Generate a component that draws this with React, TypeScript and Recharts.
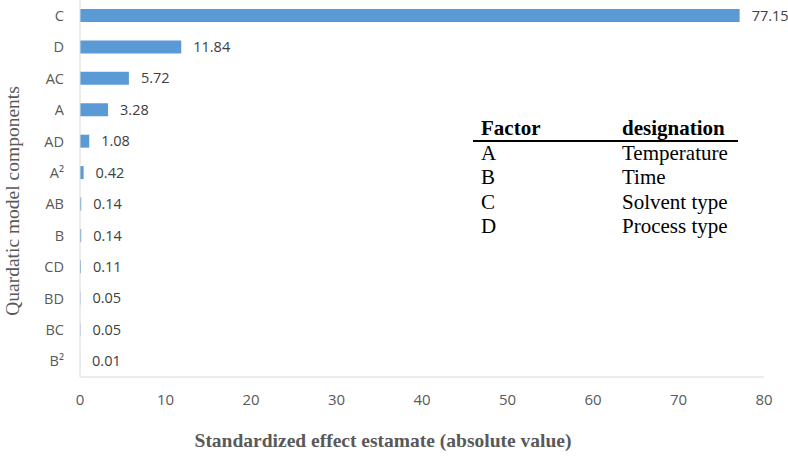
import { BarChart, Bar, XAxis, YAxis, LabelList } from "recharts";

const factors = ['C', 'D', 'AC', 'A', 'AD', 'A²', 'AB', 'B', 'CD', 'BD', 'BC', 'B²'];
const effects = [77.15, 11.84, 5.72, 3.28, 1.08, 0.42, 0.14, 0.14, 0.11, 0.05, 0.05, 0.01];
const xTicks = [0, 10, 20, 30, 40, 50, 60, 70, 80];

const tableCodes = ['A', 'B', 'C', 'D'];
const tableNames = ['Temperature', 'Time', 'Solvent type', 'Process type'];

const data = factors.map((name, i) => ({ name, value: effects[i] }));

const serif = '"Liberation Serif", "Times New Roman", serif';
const sans = '"Open Sans", Calibri, sans-serif';

const App = () => {
  return (
    <div style={{ position: 'absolute', left: 0, top: 0, width: 788, height: 456, background: '#fff' }}>
      <BarChart
        width={788}
        height={456}
        data={data}
        layout="vertical"
        margin={{ top: 0, right: 24, left: 0, bottom: 0 }}
        barCategoryGap={0}
      >
        <XAxis
          type="number"
          domain={[0, 80]}
          ticks={xTicks}
          height={79}
          tickLine={false}
          tickSize={0}
          tickMargin={17}
          axisLine={{ stroke: '#d9d9d9' }}
          tick={{ fill: '#595959', fontSize: 15, fontFamily: sans }}
        />
        <YAxis
          type="category"
          dataKey="name"
          width={80}
          tickLine={false}
          tickSize={0}
          tickMargin={16}
          axisLine={{ stroke: '#d9d9d9' }}
          tick={{ fill: '#595959', fontSize: 14.5, fontFamily: sans }}
        />
        <Bar dataKey="value" fill="#5b9bd5" barSize={13} isAnimationActive={false}>
          <LabelList
            dataKey="value"
            position="right"
            offset={12}
            formatter={(v: any) => Number(v).toFixed(2)}
            style={{ fill: '#404040', fontSize: 14.5, fontFamily: sans }}
          />
        </Bar>
      </BarChart>
      <svg width={788} height={456} style={{ position: 'absolute', left: 0, top: 0, pointerEvents: 'none' }}>
        <text
          x={0}
          y={0}
          transform="translate(19,201) rotate(-90)"
          textAnchor="middle"
          style={{ fill: '#595959', fontSize: 19.5, fontFamily: serif }}
        >
          Quardatic model components
        </text>
        <text
          x={383}
          y={447}
          textAnchor="middle"
          style={{ fill: '#595959', fontSize: 19.5, fontWeight: 'bold', fontFamily: serif }}
        >
          Standardized effect estamate (absolute value)
        </text>
        <text x={481} y={135} style={{ fill: '#000', fontSize: 21, fontWeight: 'bold', fontFamily: serif }}>Factor</text>
        <text x={622} y={135} style={{ fill: '#000', fontSize: 21, fontWeight: 'bold', fontFamily: serif }}>designation</text>
        <line x1={473} y1={141} x2={738} y2={141} stroke="#000" strokeWidth={2} />
        {tableCodes.map((c, i) => (
          <g key={c}>
            <text x={481} y={160 + i * 24.4} style={{ fill: '#000', fontSize: 21, fontFamily: serif }}>{c}</text>
            <text x={622} y={160 + i * 24.4} style={{ fill: '#000', fontSize: 21, fontFamily: serif }}>{tableNames[i]}</text>
          </g>
        ))}
      </svg>
    </div>
  );
};

export default App;
